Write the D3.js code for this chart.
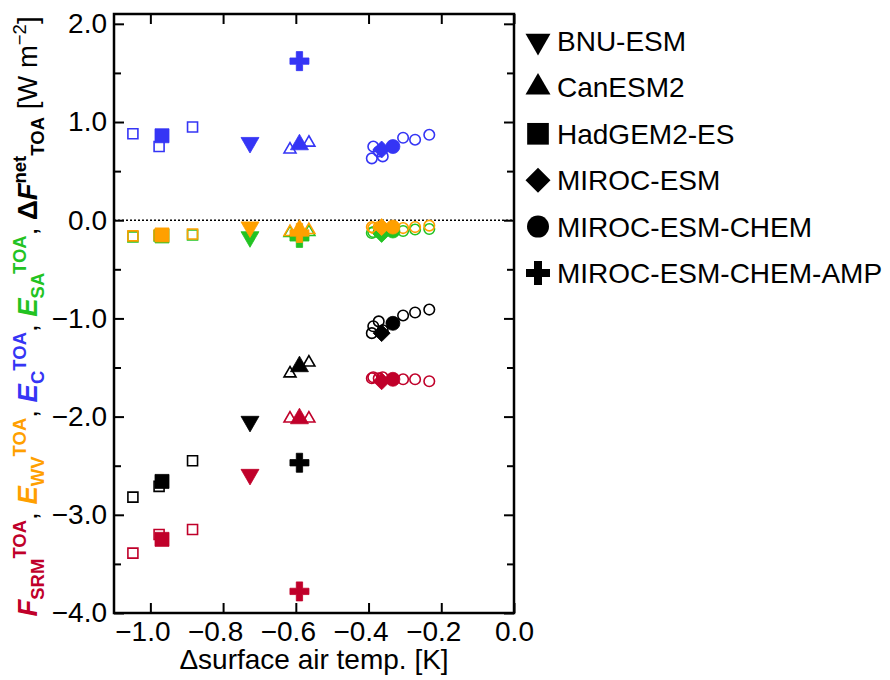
<!DOCTYPE html>
<html>
<head>
<meta charset="utf-8">
<script src="https://cdn.jsdelivr.net/npm/d3@7"></script>
<style>
    body { margin: 0; background: #fff; }
    svg { font-family: Helvetica, Arial, "Liberation Sans", sans-serif; }
    .tickLabel { font-size: 28px; fill: #000; }
</style>
</head>
<body>
<script>
// size of svg
var fullWidth = 890;
var fullHeight = 680;

// plot box
var margin = {top: 14, right: 376, bottom: 67, left: 114};
var width = fullWidth - margin.left - margin.right;
var height = fullHeight - margin.top - margin.bottom;

// models and legend order
var models = ["BNU-ESM", "CanESM2", "HadGEM2-ES", "MIROC-ESM",
              "MIROC-ESM-CHEM", "MIROC-ESM-CHEM-AMP"];

// model means (filled markers)
var meanTemp = [-0.726, -0.590, -0.968, -0.364, -0.333, -0.590];
var meanSRM  = [-2.59, -2.02, -3.25, -1.64, -1.62, -3.78];
var meanWV   = [-0.07, -0.10, -0.15, -0.07, -0.07, -0.13];
var meanC    = [0.79, 0.77, 0.86, 0.72, 0.75, 1.62];
var meanSA   = [-0.17, -0.12, -0.16, -0.14, -0.11, -0.18];
var meanNet  = [-2.05, -1.49, -2.66, -1.15, -1.05, -2.47];

// individual members (open markers)
var memberModel = ["CanESM2", "CanESM2",
                   "HadGEM2-ES", "HadGEM2-ES", "HadGEM2-ES",
                   "MIROC-ESM-CHEM", "MIROC-ESM-CHEM", "MIROC-ESM-CHEM",
                   "MIROC-ESM-CHEM", "MIROC-ESM-CHEM", "MIROC-ESM-CHEM",
                   "MIROC-ESM-CHEM"];
var memberTemp = [-0.616, -0.564, -1.048, -0.976, -0.884,
                  -0.387, -0.391, -0.361, -0.372, -0.305, -0.272, -0.233];
var memberSRM  = [-2.02, -2.02, -3.39, -3.20, -3.15,
                  -1.60, -1.61, -1.60, -1.61, -1.62, -1.62, -1.64];
var memberWV   = [-0.12, -0.10, -0.16, -0.15, -0.14,
                  -0.08, -0.07, -0.08, -0.07, -0.08, -0.07, -0.055];
var memberC    = [0.72, 0.79, 0.88, 0.75, 0.95,
                  0.75, 0.63, 0.65, 0.70, 0.84, 0.82, 0.87];
var memberSA   = [-0.13, -0.12, -0.17, -0.16, -0.15,
                  -0.12, -0.13, -0.12, -0.12, -0.11, -0.095, -0.09];
var memberNet  = [-1.56, -1.45, -2.82, -2.71, -2.45,
                  -1.08, -1.15, -1.12, -1.03, -0.97, -0.94, -0.91];

// axis ticks
var xTicks = [-1.0, -0.8, -0.6, -0.4, -0.2, 0.0];
var yTicks = [-4, -3, -2, -1, 0, 1, 2];
var yMinorTicks = [-3.5, -2.5, -1.5, -0.5, 0.5, 1.5];

// colours per component (drawing order: green under orange)
var compColors = {net: "#000000", srm: "#c0002a", c: "#3535f5",
                  sa: "#22c322", wv: "#ffa000"};
var compOrder = ["net", "srm", "c", "sa", "wv"];

var meanValues = {srm: meanSRM, wv: meanWV, c: meanC, sa: meanSA, net: meanNet};
var memberValues = {srm: memberSRM, wv: memberWV, c: memberC, sa: memberSA,
                    net: memberNet};

// svg
var svg = d3.select("body")
            .append("svg")
            .attr("width", fullWidth)
            .attr("height", fullHeight);

// scales
var xScale = d3.scaleLinear()
               .domain([-1.1, 0])
               .range([margin.left, margin.left + width]);

var yScale = d3.scaleLinear()
               .domain([-4, 2.1])
               .range([margin.top + height, margin.top]);

var fmt = d3.format(".1f");

// marker shape for each model
function shapeOf(model) {
    var i = models.indexOf(model);
    return [
        {type: d3.symbolTriangle, rot: 180},
        {type: d3.symbolTriangle, rot: 0},
        {type: d3.symbolSquare, rot: 0},
        {type: d3.symbolSquare, rot: 45},
        {type: d3.symbolCircle, rot: 0},
        {type: d3.symbolCross, rot: 0}
    ][i];
}

// marker area for filled / open / legend markers
function sizeOf(model, kind) {
    var i = models.indexOf(model);
    var filled = [140, 140, 196, 144, 154, 201];
    var open = [62, 62, 100, 70, 87, 100];
    var legend = [270, 270, 470, 313, 380, 320];
    if (kind == "filled") return filled[i];
    if (kind == "open") return open[i];
    return legend[i];
}

function markerPath(model, kind) {
    var s = shapeOf(model);
    return d3.symbol().type(s.type).size(sizeOf(model, kind))();
}

// zero line
svg.append("line")
   .attr("x1", xScale(-1.1))
   .attr("x2", xScale(0))
   .attr("y1", yScale(0))
   .attr("y2", yScale(0))
   .style("stroke", "#000")
   .style("stroke-width", 1.5)
   .style("stroke-dasharray", "2,2");

// open member markers
var members = memberTemp.map(function(t, i) { return {i: i, t: t, model: memberModel[i]}; });
compOrder.forEach(function(comp) {
    svg.append("g")
       .selectAll("path")
       .data(members)
       .enter()
       .append("path")
       .attr("d", function(d) { return markerPath(d.model, "open"); })
       .attr("transform", function(d) {
           return "translate(" + xScale(d.t) + "," + yScale(memberValues[comp][d.i]) +
                  ") rotate(" + shapeOf(d.model).rot + ")";
       })
       .style("fill", "none")
       .style("stroke", compColors[comp])
       .style("stroke-width", 1.6);
});

// filled mean markers
var means = meanTemp.map(function(t, i) { return {i: i, t: t, model: models[i]}; });
compOrder.forEach(function(comp) {
    svg.append("g")
       .selectAll("path")
       .data(means)
       .enter()
       .append("path")
       .attr("d", function(d) { return markerPath(d.model, "filled"); })
       .attr("transform", function(d) {
           return "translate(" + xScale(d.t) + "," + yScale(meanValues[comp][d.i]) +
                  ") rotate(" + shapeOf(d.model).rot + ")";
       })
       .style("fill", compColors[comp])
       .style("stroke", compColors[comp])
       .style("stroke-width", 0.8);
});

// axes with inward ticks
var bottom = margin.top + height;
var right = margin.left + width;

svg.append("g")
   .attr("transform", "translate(0," + bottom + ")")
   .call(d3.axisBottom(xScale).tickValues(xTicks).tickSize(-10).tickPadding(8)
           .tickFormat(fmt))
   .call(function(g) { g.select(".domain").remove(); })
   .call(function(g) { g.selectAll("line").style("stroke-width", 2); })
   .call(function(g) {
       g.selectAll("text")
        .attr("class", "tickLabel")
        // numeric part sits on the tick, minus sign hangs to the left
        .attr("x", function(d) { return d < 0 ? -8 : 0; })
        .style("font-size", null).style("font-family", null);
   });

svg.append("g")
   .attr("transform", "translate(0," + margin.top + ")")
   .call(d3.axisTop(xScale).tickValues(xTicks).tickSize(-10).tickFormat(""))
   .call(function(g) { g.select(".domain").remove(); })
   .call(function(g) { g.selectAll("line").style("stroke-width", 2); });

svg.append("g")
   .attr("transform", "translate(" + margin.left + ",0)")
   .call(d3.axisLeft(yScale).tickValues(yTicks).tickSize(-10).tickPadding(7)
           .tickFormat(fmt))
   .call(function(g) { g.select(".domain").remove(); })
   .call(function(g) { g.selectAll("line").style("stroke-width", 2); })
   .call(function(g) {
       g.selectAll("text")
        .attr("class", "tickLabel")
        .style("font-size", null).style("font-family", null);
   });

svg.append("g")
   .attr("transform", "translate(" + margin.left + ",0)")
   .call(d3.axisLeft(yScale).tickValues(yMinorTicks).tickSize(-7).tickFormat(""))
   .call(function(g) { g.select(".domain").remove(); })
   .call(function(g) { g.selectAll("line").style("stroke-width", 2); });

svg.append("g")
   .attr("transform", "translate(" + right + ",0)")
   .call(d3.axisRight(yScale).tickValues(yTicks).tickSize(-10).tickFormat(""))
   .call(function(g) { g.select(".domain").remove(); })
   .call(function(g) { g.selectAll("line").style("stroke-width", 2); });

svg.append("g")
   .attr("transform", "translate(" + right + ",0)")
   .call(d3.axisRight(yScale).tickValues(yMinorTicks).tickSize(-7).tickFormat(""))
   .call(function(g) { g.select(".domain").remove(); })
   .call(function(g) { g.selectAll("line").style("stroke-width", 2); });

// frame
svg.append("rect")
   .attr("x", margin.left)
   .attr("y", margin.top)
   .attr("width", width)
   .attr("height", height)
   .style("fill", "none")
   .style("stroke", "#000")
   .style("stroke-width", 2.5);

// x axis title
svg.append("text")
   .attr("x", margin.left + width / 2)
   .attr("y", 669)
   .style("text-anchor", "middle")
   .style("font-size", "28px")
   .text("\u0394surface air temp. [K]");

// y axis title, built from coloured pieces
// [text, colour, bold, italic, level] with level 0 base, -1 sub, 1 sup
var titleParts = [
    ["F", "#c0002a", 1, 1, 0], ["SRM", "#c0002a", 1, 0, -1], ["TOA", "#c0002a", 1, 0, 1],
    [", ", "#000", 0, 0, 0],
    ["E", "#ffa000", 1, 1, 0], ["WV", "#ffa000", 1, 0, -1], ["TOA", "#ffa000", 1, 0, 1],
    [", ", "#000", 0, 0, 0],
    ["E", "#3535f5", 1, 1, 0], ["C", "#3535f5", 1, 0, -1], ["TOA", "#3535f5", 1, 0, 1],
    [", ", "#000", 0, 0, 0],
    ["E", "#22c322", 1, 1, 0], ["SA", "#22c322", 1, 0, -1], ["TOA", "#22c322", 1, 0, 1],
    [", ", "#000", 0, 0, 0],
    ["\u0394", "#000", 1, 0, 0], ["F", "#000", 1, 1, 0], ["net", "#000", 1, 0, 1],
    ["TOA", "#000", 1, 0, -1],
    [" [W m", "#000", 0, 0, 0], ["\u22122", "#000", 0, 0, 1], ["]", "#000", 0, 0, 0]
];

var yTitle = svg.append("text")
                .attr("transform", "translate(37," + (margin.top + height / 2 + 3) + ") rotate(-90)")
                .style("text-anchor", "middle");

var level = 0;
var shifts = {"0": 0, "-1": 7, "1": -11};
titleParts.forEach(function(p) {
    var target = shifts[p[4]];
    yTitle.append("tspan")
          .attr("dy", target - level)
          .style("fill", p[1])
          .style("font-weight", p[2] ? "bold" : "normal")
          .style("font-style", p[3] ? "italic" : "normal")
          .style("font-size", p[4] == 0 ? "27.5px" : "18.5px")
          .text(p[0]);
    level = target;
});

// legend
var legend = svg.selectAll(".legend")
                .data(models)
                .enter()
                .append("g")
                .attr("class", "legend")
                .attr("transform", function(d, i) {
                    return "translate(538," + (41 + i * 46.4) + ")";
                });

legend.append("path")
      .attr("d", function(d) { return markerPath(d, "legend"); })
      .attr("transform", function(d) { return "rotate(" + shapeOf(d).rot + ")"; })
      .style("fill", "#000");

legend.append("text")
      .attr("x", 19)
      .attr("dy", "0.36em")
      .style("font-size", "28px")
      .text(function(d) { return d; });
</script>
</body>
</html>
